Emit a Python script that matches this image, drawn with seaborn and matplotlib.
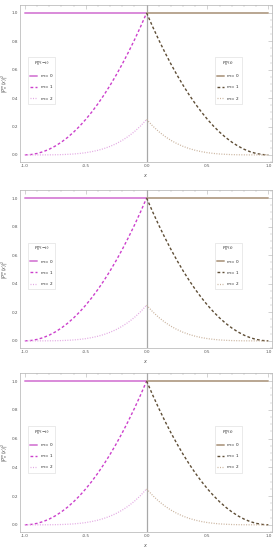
import numpy as np
import pandas as pd
import matplotlib
matplotlib.use('Agg')
import matplotlib.pyplot as plt
import seaborn as sns
from matplotlib.lines import Line2D
from matplotlib.ticker import MultipleLocator

sns.set_style('white')
plt.rcParams['font.family'] = ['DejaVu Sans']

# values (left branch, x from -1 to 0)
x_left = [-1.0, -0.95, -0.9, -0.85, -0.8, -0.75, -0.7, -0.65, -0.6, -0.55, -0.5,
          -0.45, -0.4, -0.35, -0.3, -0.25, -0.2, -0.15, -0.1, -0.05, 0.0]
m0_left = [1.0] * 21
m1_left = [0.0, 0.0025, 0.01, 0.0225, 0.04, 0.0625, 0.09, 0.1225, 0.16, 0.2025, 0.25,
           0.3025, 0.36, 0.4225, 0.49, 0.5625, 0.64, 0.7225, 0.81, 0.9025, 1.0]
m2_left = [0.0, 0.0, 0.0, 0.0001, 0.0004, 0.001, 0.002, 0.0038, 0.0064, 0.0103, 0.0156,
           0.0229, 0.0324, 0.0446, 0.06, 0.0791, 0.1024, 0.1305, 0.164, 0.2036, 0.25]
# right branch is the mirror image
x_right = [-v for v in x_left]
m0_right = m0_left
m1_right = m1_left
m2_right = m2_left

left_colors = ['#d98ad9', '#cc40cc', '#e2a6e2']
right_colors = ['#b9a692', '#5e4d35', '#c9b29c']
styles = ['-', (0, (2.0, 1.6)), (0, (0.8, 1.2))]
widths = [1.4, 1.0, 0.9]
m_labels = ['$m = 0$', '$m = 1$', '$m = 2$']

fig = plt.figure(figsize=(2.8, 5.5), dpi=100)
H = 550.0
W = 280.0
frames = [(5, 162), (190, 348), (373, 532)]

for top, bottom in frames:
    ax = fig.add_axes([20 / W, 1 - bottom / H, 252 / W, (bottom - top) / H])
    ax.axvline(0, color='#a8a8a8', lw=0.9, zorder=1)
    for ys, c, ls, lw in zip([m0_left, m1_left, m2_left], left_colors, styles, widths):
        sns.lineplot(x=x_left, y=ys, ax=ax, color=c, linestyle=ls, lw=lw, zorder=3)
    for ys, c, ls, lw in zip([m0_right, m1_right, m2_right], right_colors, styles, widths):
        sns.lineplot(x=x_right, y=ys, ax=ax, color=c, linestyle=ls, lw=lw, zorder=3)
    ax.set_xlim(-1.04, 1.03)
    ax.set_ylim(-0.05, 1.056)
    ax.xaxis.set_major_locator(MultipleLocator(0.5))
    ax.xaxis.set_minor_locator(MultipleLocator(0.1))
    ax.yaxis.set_major_locator(MultipleLocator(0.2))
    ax.yaxis.set_minor_locator(MultipleLocator(0.05))
    ax.tick_params(which='both', direction='in', top=True, right=True,
                   labeltop=False, labelright=False, color='#b0b0b0',
                   labelsize=3.0, labelcolor='#555555', pad=1.5)
    ax.tick_params(which='major', length=3, width=0.4)
    ax.tick_params(which='minor', length=1.5, width=0.3)
    ax.set_xticks([-1.0, -0.5, 0.0, 0.5, 1.0])
    ax.set_xticklabels(['-1.0', '-0.5', '0.0', '0.5', '1.0'])
    for s in ax.spines.values():
        s.set_color('#b0b0b0')
        s.set_linewidth(0.5)
    ax.set_xlabel('$x$', fontsize=3.5, color='#555555', labelpad=2.5)
    ax.set_ylabel('$|P_n^m(x)|^2$', fontsize=3.3, color='#555555', labelpad=1)

    h_left = [Line2D([0], [0], color=c, linestyle=ls, lw=lw)
              for c, ls, lw in zip(left_colors, styles, widths)]
    h_right = [Line2D([0], [0], color=c, linestyle=ls, lw=lw)
               for c, ls, lw in zip(right_colors, styles, widths)]
    leg1 = ax.legend(h_left, m_labels, title='$P_n^m(-t)$', loc='center left',
                     bbox_to_anchor=(0.025, 0.52), fontsize=3.0, title_fontsize=3.0,
                     frameon=True, fancybox=False, edgecolor='#d0d0d0',
                     handlelength=1.6, handletextpad=0.6, labelspacing=1.0,
                     borderpad=0.5)
    leg1.get_frame().set_linewidth(0.4)
    ax.add_artist(leg1)
    leg2 = ax.legend(h_right, m_labels, title='$P_n^m(t)$', loc='center left',
                     bbox_to_anchor=(0.765, 0.52), fontsize=3.0, title_fontsize=3.0,
                     frameon=True, fancybox=False, edgecolor='#d0d0d0',
                     handlelength=1.6, handletextpad=0.6, labelspacing=1.0,
                     borderpad=0.5)
    leg2.get_frame().set_linewidth(0.4)

fig.savefig('out.png', dpi=100)
